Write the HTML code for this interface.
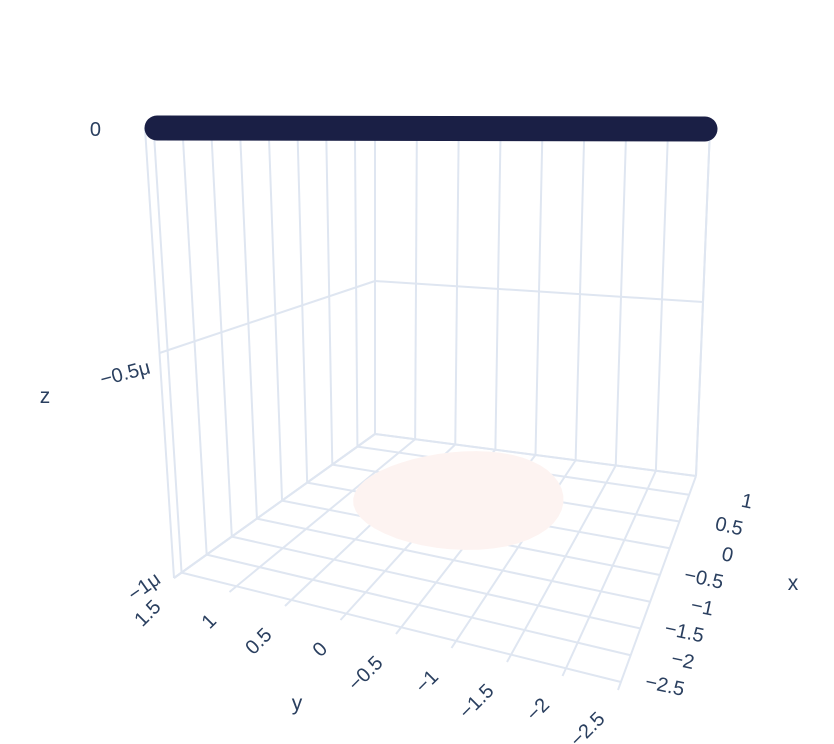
<!DOCTYPE html>
<html><head><meta charset="utf-8"><style>
body{margin:0;background:#fff;}
svg{display:block;font-family:"Liberation Sans","DejaVu Sans",sans-serif;}
</style></head><body>
<svg id="chart" width="834" height="744" viewBox="0 0 834 744">
<g id="grid"></g>
<g id="marks"></g>
<g id="labels"></g>
<text x="793" y="590" font-size="21" fill="#2a3f5f" text-anchor="middle">x</text>
<text x="297" y="710" font-size="21" fill="#2a3f5f" text-anchor="middle">y</text>
<text x="45" y="403" font-size="21" fill="#2a3f5f" text-anchor="middle">z</text>
</svg>
<script>
const xTicks=[1,0.5,0,-0.5,-1,-1.5,-2,-2.5];
const xTickLabels=["1","0.5","0","\u22120.5","\u22121","\u22121.5","\u22122","\u22122.5"];
const yTicks=[1.5,1,0.5,0,-0.5,-1,-1.5,-2,-2.5];
const yTickLabels=["1.5","1","0.5","0","\u22120.5","\u22121","\u22121.5","\u22122","\u22122.5"];
const zTicks=[0,-0.5,-1];
const zTickLabels=["0","\u22120.5\u03bc","\u22121\u03bc"];
const blobCenter=[0.0,-0.2];
const blobRadius=[1.05];
const blobLevel=[-0.97];
const topSurfaceZ=[0];

const xmin=-2.65,xmax=1.35,ymin=-2.5,ymax=1.5;
const F00=[618,690],F01=[174,578],F10=[696,476],F11=[375,434];
const T00=[640,128],T01=[145,128],T10=[710,128],T11=[375,128];
function bil(a,b,c,d,u,v){
  const p=[a[0]+(b[0]-a[0])*v,a[1]+(b[1]-a[1])*v];
  const q=[c[0]+(d[0]-c[0])*v,c[1]+(d[1]-c[1])*v];
  return [p[0]+(q[0]-p[0])*u,p[1]+(q[1]-p[1])*u];
}
function P(x,y,z){
  const u=(x-xmin)/(xmax-xmin),v=(y-ymin)/(ymax-ymin);
  const f=bil(F00,F01,F10,F11,u,v),t=bil(T00,T01,T10,T11,u,v);
  const s=-z;
  return [t[0]+(f[0]-t[0])*s,t[1]+(f[1]-t[1])*s];
}
const NS="http://www.w3.org/2000/svg";
const gridG=document.getElementById('grid'),marksG=document.getElementById('marks'),labelsG=document.getElementById('labels');
function gline(a,b,name){
  const l=document.createElementNS(NS,'line');
  l.setAttribute('x1',a[0]);l.setAttribute('y1',a[1]);l.setAttribute('x2',b[0]);l.setAttribute('y2',b[1]);
  l.setAttribute('stroke','#dfe6f1');l.setAttribute('stroke-width',2);
  
  
  gridG.appendChild(l);
}
gline(P(xmin,ymax,0),P(xmin,ymax,-1),'z-axis-edge');
gline(P(xmax,ymax,0),P(xmax,ymax,-1),'back-edge');
gline(P(xmax,ymin,0),P(xmax,ymin,-1),'right-edge');
gline(P(xmin,ymax,-1),P(xmax,ymax,-1),'floor-left-edge');
gline(P(xmax,ymax,-1),P(xmax,ymin,-1),'floor-back-edge');
xTicks.forEach(x=>{
  gline(P(x,ymin,-1),P(x,ymax,-1),'x-gridline-floor');
  gline(P(x,ymax,0),P(x,ymax,-1),'x-gridline-wall');
});
yTicks.forEach(y=>{
  gline(P(xmin,y,-1),P(xmax,y,-1),'y-gridline-floor');
  gline(P(xmax,y,0),P(xmax,y,-1),'y-gridline-wall');
});
zTicks.forEach(z=>{
  gline(P(xmin,ymax,z),P(xmax,ymax,z),'z-gridline-left');
  gline(P(xmax,ymax,z),P(xmax,ymin,z),'z-gridline-right');
});
const blobPts=[];
for(let i=0;i<48;i++){const ang=i/48*2*Math.PI;const p=P(blobCenter[0]+blobRadius[0]*Math.cos(ang),blobCenter[1]+blobRadius[0]*Math.sin(ang),blobLevel[0]);blobPts.push(p[0].toFixed(1)+','+p[1].toFixed(1));}
const blobEl=document.createElementNS(NS,'polygon');
blobEl.setAttribute('points',blobPts.join(' '));
blobEl.setAttribute('fill','#fdf3f1');blobEl.setAttribute('stroke','#fdf3f1');blobEl.setAttribute('stroke-width','4');blobEl.setAttribute('stroke-linejoin','round');


marksG.appendChild(blobEl);
const pa=P(xmin,ymax,topSurfaceZ[0]),pb=P(xmax,ymin,topSurfaceZ[0]);
const topLine=document.createElementNS(NS,'line');
topLine.setAttribute('x1',pa[0]+12);topLine.setAttribute('y1',pa[1]);topLine.setAttribute('x2',pb[0]-5);topLine.setAttribute('y2',pb[1]+1);
topLine.setAttribute('stroke','#1a1f45');topLine.setAttribute('stroke-width','25');topLine.setAttribute('stroke-linecap','round');


marksG.appendChild(topLine);
function ttext(str,x,y,rot,anchor,name){
  const t=document.createElementNS(NS,'text');
  t.setAttribute('x',x);t.setAttribute('y',y);t.setAttribute('font-size','20');t.setAttribute('fill','#2a3f5f');
  t.setAttribute('text-anchor',anchor);
  if(rot)t.setAttribute('transform','rotate('+rot+' '+x+' '+y+')');
  t.textContent=str;
  
  
  labelsG.appendChild(t);
}
xTicks.forEach((x,i)=>{const p=P(x,ymin,-1);ttext(xTickLabels[i],p[0]+62,p[1]+14,12,'end','x-tick-label');});
yTicks.forEach((y,i)=>{const p=P(xmin,y,-1);ttext(yTickLabels[i],p[0]-12,p[1]+30,-45,'end','y-tick-label');});
zTicks.forEach((z,i)=>{
  const p=P(xmin,ymax,z);
  const rot=i==0?0:(i==1?-15:-35);
  const dx=i==0?-44:(i==1?-8:-12);
  const dy=i==0?8:(i==1?20:4);
  ttext(zTickLabels[i],p[0]+dx,p[1]+dy,rot,'end','z-tick-label');
});
</script>
</body></html>
